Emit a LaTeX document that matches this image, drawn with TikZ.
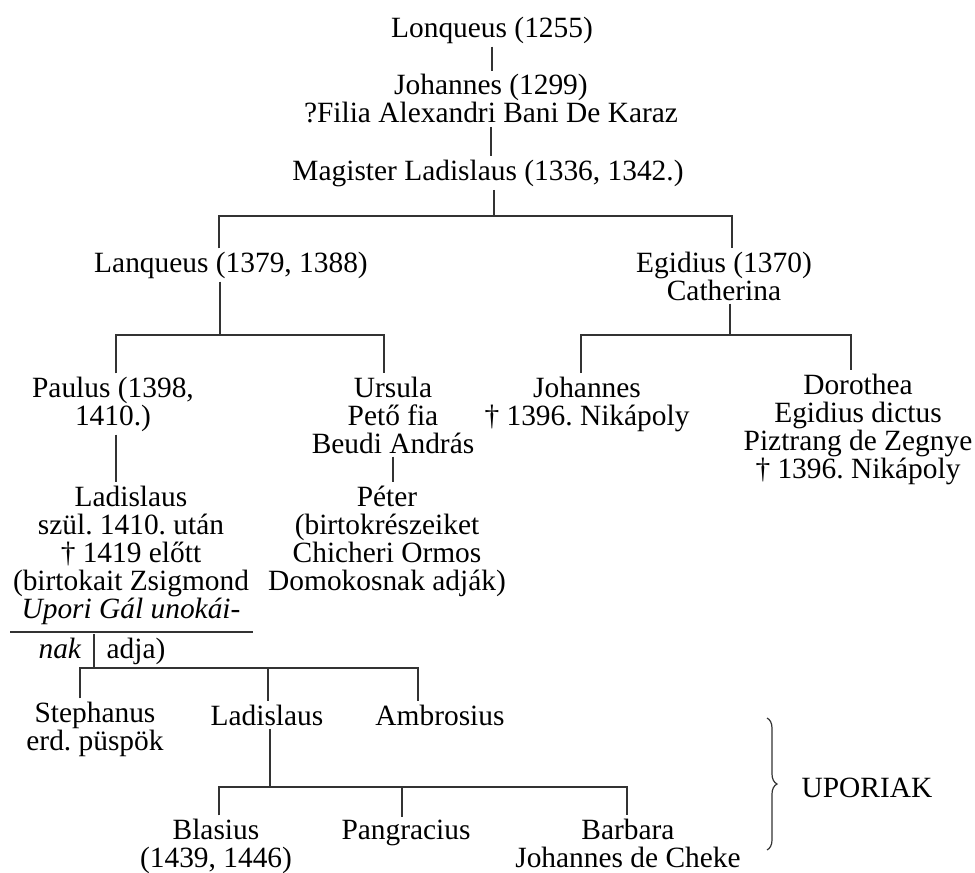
\documentclass[tikz,border=0pt]{standalone}
\usepackage{fontspec}
\setmainfont{Liberation Serif}
\frenchspacing
\usetikzlibrary{decorations.pathreplacing}

\begin{document}
\begin{tikzpicture}[x=0.5pt, y=-0.5pt,
        person/.style={align=center, inner sep=1.5pt, font=\fontsize{14.7pt}{14pt}\selectfont},
        link/.style={line width=0.6pt, black!80}]

        % page size (pixels of the scan)
        \useasboundingbox (0,0) rectangle (975,873);

        % first generations
        \node[person] (lonq) at (492,30) {Lonqueus (1255)};
        \node[person] (joh) at (491,99) {Johannes (1299)\\?Filia Alexandri Bani De Karaz};
        \node[person] (mag) at (488,173) {Magister Ladislaus (1336, 1342.)};

        % sons of Ladislaus
        \node[person] (lanq) at (231,265) {Lanqueus (1379, 1388)};
        \node[person] (egid) at (724,276) {Egidius (1370)\\Catherina};

        % grandchildren
        \node[person] (paul) at (113,404) {Paulus (1398,\\1410.)};
        \node[person] (urs) at (393,415) {Ursula\\Pető fia\\Beudi András};
        \node[person] (johs) at (587,404) {Johannes\\† 1396. Nikápoly};
        \node[person] (doro) at (858,429) {Dorothea\\Egidius dictus\\Piztrang de Zegnye\\† 1396. Nikápoly};

        \node[person] (lad) at (131,555) {Ladislaus\\szül. 1410. után\\† 1419 előtt\\(birtokait Zsigmond\\\textit{Upori Gál unokái-}};
        \node[person, anchor=base] (nak) at (60,658) {\textit{nak}};
        \node[person, anchor=base] (adja) at (136,658) {adja)};
        \node[person] (pet) at (387,541) {Péter\\(birtokrészeiket\\Chicheri Ormos\\Domokosnak adják)};

        % the Upori line
        \node[person] (steph) at (95,729) {Stephanus\\erd. püspök};
        \node[person] (lad2) at (267,715) {Ladislaus};
        \node[person] (ambr) at (440,715) {Ambrosius};

        \node[person] (blas) at (216,846) {Blasius\\(1439, 1446)};
        \node[person] (pang) at (406,833) {Pangracius};
        \node[person] (barb) at (628,843) {Barbara\\Johannes de Cheke};

        \node[person] (upor) at (867,788) {UPORIAK};

        % bar coordinates
        \coordinate (b1m) at (494,216);
        \coordinate (b1l) at (219,216);
        \coordinate (b1r) at (732,216);
        \coordinate (b2m) at (220,335);
        \coordinate (b2l) at (116,335);
        \coordinate (b2r) at (384,335);
        \coordinate (b3m) at (730,335);
        \coordinate (b3l) at (581,335);
        \coordinate (b3r) at (851,335);
        \coordinate (rl) at (10,632);
        \coordinate (rr) at (253,632);
        \coordinate (b4m) at (94,668);
        \coordinate (b4l) at (80,668);
        \coordinate (b4c) at (268,668);
        \coordinate (b4r) at (418,668);
        \coordinate (b5m) at (270,787);
        \coordinate (b5l) at (219,787);
        \coordinate (b5c) at (402,787);
        \coordinate (b5r) at (627,787);
        \coordinate (brtop) at (767,718);
        \coordinate (brbot) at (767,850);

        % straight descent
        \draw[link] (lonq.south) -- (lonq.south |- joh.north);
        \draw[link] (joh.south) -- (joh.south |- mag.north);
        \draw[link] (b1m |- mag.south) -- (b1m);

        % family bars
        \draw[link] (b1l |- lanq.north) -- (b1l) -- (b1r) -- (b1r |- egid.north);

        \draw[link] (b2m |- lanq.south) -- (b2m);
        \draw[link] (b2l |- paul.north) -- (b2l) -- (b2r) -- (b2r |- urs.north);

        \draw[link] (b3m |- egid.south) -- (b3m);
        \draw[link] (b3l |- johs.north) -- (b3l) -- (b3r) -- (b3r |- doro.north);

        \draw[link] (b2l |- paul.south) -- (b2l |- lad.north);
        \draw[link] (urs.south) -- (urs.south |- pet.north);

        % rule under the Ladislaus note
        \draw[link] (rl) -- (rr);

        \draw[link] (b4m |- adja.north) -- (b4m);
        \draw[link] (b4l |- steph.north) -- (b4l) -- (b4r) -- (b4r |- ambr.north);
        \draw[link] (b4c) -- (b4c |- lad2.north);

        \draw[link] (b5m |- lad2.south) -- (b5m);
        \draw[link] (b5l |- blas.north) -- (b5l) -- (b5r) -- (b5r |- barb.north);
        \draw[link] (b5c) -- (b5c |- pang.north);

        % brace round the Upori family
        \draw[link, decorate, decoration={brace, amplitude=5pt}] (brtop) -- (brbot);

    \end{tikzpicture}
\end{document}
